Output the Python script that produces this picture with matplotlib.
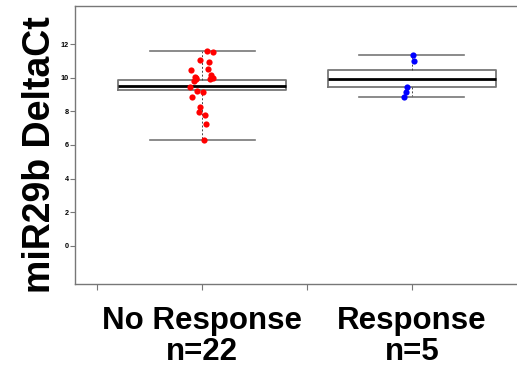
import matplotlib
matplotlib.use("Agg")
from matplotlib import pyplot as plt

# group labels
groups = ["No Response", "Response"]
n_labels = ["n=22", "n=5"]

# box statistics
whislo = [6.27, 8.85]
q1 = [9.26, 9.42]
med = [9.52, 9.93]
q3 = [9.84, 10.47]
whishi = [11.58, 11.35]

# individual points (value, horizontal jitter)
no_resp_vals = [11.60, 11.50, 11.03, 10.95, 10.43, 10.49, 10.17, 10.02, 10.00, 10.00, 9.90,
                9.80, 9.93, 9.44, 9.20, 9.14, 8.88, 8.23, 7.95, 7.79, 7.24, 6.27]
no_resp_jitter = [0.024, 0.051, -0.008, 0.035, -0.052, 0.029, 0.045, -0.035, -0.027, 0.052, 0.040,
                  -0.040, -0.030, -0.055, -0.022, 0.005, -0.046, -0.010, -0.016, 0.013, 0.021, 0.008]
resp_vals = [11.35, 10.99, 9.42, 9.14, 8.85]
resp_jitter = [0.006, 0.011, -0.024, -0.030, -0.037]

yticks = [0, 2, 4, 6, 8, 10, 12]

plt.rcParams["font.family"] = ["Liberation Sans", "DejaVu Sans"]

fig = plt.figure(figsize=(5.17, 3.68), dpi=100)
ax = fig.add_axes([0.145, 0.228, 0.8956, 0.7554])

stats = []
for i in range(len(groups)):
    stats.append({"whislo": whislo[i], "q1": q1[i], "med": med[i],
                  "q3": q3[i], "whishi": whishi[i], "fliers": []})

grey = "#777777"
ax.bxp(stats, positions=[1, 2], widths=0.8, capwidths=0.5, showfliers=False,
       boxprops=dict(color=grey, linewidth=1.3),
       medianprops=dict(color="black", linewidth=2.0),
       whiskerprops=dict(color="#444444", linewidth=0.7, linestyle=(0, (2, 2))),
       capprops=dict(color=grey, linewidth=1.2))

ax.scatter([1 + j for j in no_resp_jitter], no_resp_vals, s=20, color="#ff0000", zorder=5, linewidths=0)
ax.scatter([2 + j for j in resp_jitter], resp_vals, s=20, color="#0000ff", zorder=5, linewidths=0)

ax.set_xlim(0.395, 2.6)
ax.set_ylim(-2.28, 14.26)

ax.set_yticks(yticks)
ax.set_yticklabels([str(t) for t in yticks], fontsize=5.2, fontweight="bold")
ax.tick_params(axis="y", length=3.5, width=0.8, color=grey, pad=1)

ax.set_xticks([0.5, 1, 1.5, 2])
ax.set_xticklabels(["", groups[0] + "\n" + n_labels[0], "", groups[1] + "\n" + n_labels[1]],
                   fontsize=22.5, fontweight="bold", linespacing=1.05)
ax.tick_params(axis="x", length=4, width=0.8, color=grey, pad=12)

for side in ["left", "bottom", "top"]:
    ax.spines[side].set_color(grey)
    ax.spines[side].set_linewidth(1.0)
ax.spines["right"].set_visible(False)

fig.text(0.077, 0.58, "miR29b DeltaCt", rotation=90, fontsize=27, fontweight="bold",
         ha="center", va="center")

fig.savefig("out.png", dpi=100)
